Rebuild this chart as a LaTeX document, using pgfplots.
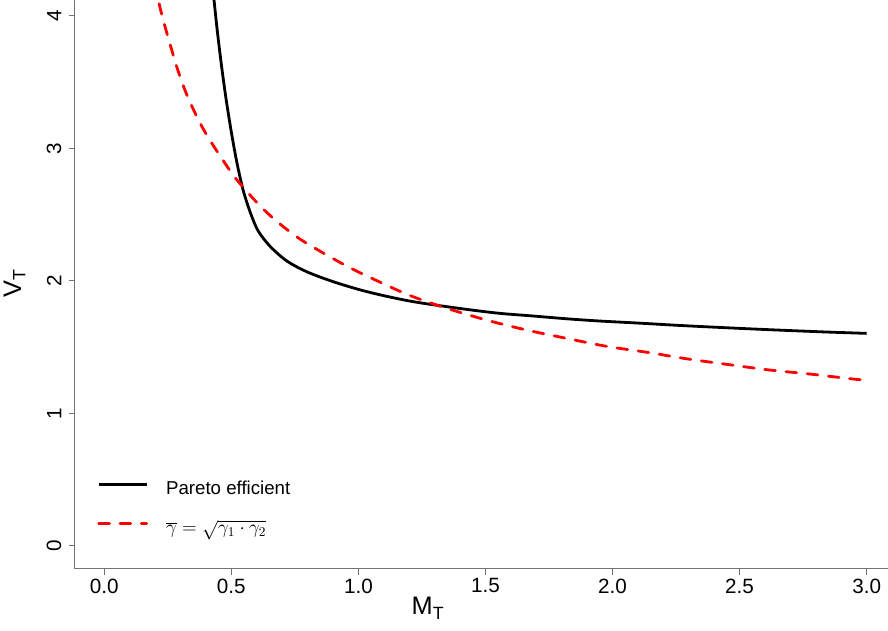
\documentclass[border=0pt]{standalone}
\usepackage{fontspec}
\setmainfont{Liberation Sans}
\usepackage{pgfplots}
\pgfplotsset{compat=1.18}

\begin{document}
\begin{tikzpicture}
\begin{axis}[
    scale only axis, width=610.1pt, height=426.4pt,
    xmin=-0.117, xmax=3.084, ymin=-0.172, ymax=4.119,
    axis x line*=bottom, axis y line*=left,
    x axis line style={-}, y axis line style={-},
    axis line style={black!55, line width=1pt},
    tick align=outside, major tick length=4.5pt,
    tick style={black!55, line width=1pt},
    xtick={0,0.5,1,1.5,2,2.5,3}, ytick={0,1,2,3,4},
    /pgf/number format/assume math mode=true,
    tick label style={font=\fontsize{15.5}{18}\selectfont, inner sep=0pt},
    xticklabel style={anchor=north, /pgf/number format/.cd, fixed, fixed zerofill, precision=1},
    yticklabel style={rotate=90, anchor=south},
    xticklabel shift=2.9pt, yticklabel shift=5.2pt,
    xlabel={M\textsubscript{T}}, ylabel={V\textsubscript{T}},
    xlabel style={at={(axis description cs:0.4345,-0.0501)}, anchor=north, inner sep=0pt, font=\fontsize{19}{22}\selectfont},
    ylabel style={at={(axis description cs:-0.0600,0.5022)}, anchor=south, inner sep=0pt, font=\fontsize{19}{22}\selectfont},
    legend style={draw=none, fill=none, inner sep=0pt, at={(axis description cs:0.0277,0.1038)}, anchor=west,
        font=\fontsize{14}{17}\selectfont, row sep=16pt, column sep=13.5pt,
        nodes={inner sep=0pt, text height=10pt, text depth=3pt}},
    legend cell align=left,
    legend image code/.code={\draw[#1] (0pt,4pt) -- (36pt,4pt);},
]
\coordinate (SW) at (rel axis cs:0,0);
\coordinate (NE) at (rel axis cs:1,1);

% Pareto efficient frontier
\addplot[black, line width=2.1pt, smooth, tension=0.5] coordinates {
 (0.423,4.30) (0.432,4.119) (0.446,3.867) (0.462,3.615) (0.480,3.364) (0.501,3.112)
 (0.520,2.911) (0.534,2.785) (0.550,2.660) (0.576,2.509) (0.606,2.375) (0.654,2.257)
 (0.718,2.150) (0.797,2.068) (0.901,1.993) (1.019,1.925) (1.137,1.872) (1.242,1.834)
 (1.426,1.784) (1.557,1.754) (1.688,1.734) (1.820,1.713) (1.951,1.696) (2.108,1.680)
 (2.292,1.660) (2.554,1.636) (2.817,1.615) (3.000,1.603)};
\addlegendentry{Pareto efficient}

% geometric mean gamma
\addplot[red, line width=2.1pt, line cap=round, dash pattern=on 8pt off 8pt, smooth, tension=0.5] coordinates {
 (0.205,4.25) (0.213,4.119) (0.232,3.968) (0.259,3.785) (0.285,3.617) (0.311,3.472)
 (0.337,3.350) (0.377,3.190) (0.416,3.060) (0.462,2.925) (0.508,2.795) (0.554,2.690)
 (0.613,2.565) (0.678,2.450) (0.757,2.332) (0.836,2.238) (0.967,2.098) (1.124,1.955)
 (1.216,1.879) (1.348,1.792) (1.505,1.703) (1.662,1.628) (1.820,1.565) (1.977,1.505)
 (2.147,1.457) (2.292,1.411) (2.462,1.366) (2.620,1.326) (2.777,1.296) (2.948,1.258)
 (3.000,1.250)};
\addlegendentry{$\overline{\gamma} = \sqrt{\gamma_1 \cdot \gamma_2}$}
\end{axis}
\pgfresetboundingbox
\path[use as bounding box] ([shift={(-55.875pt,-46.125pt)}]SW) rectangle (NE);
\end{tikzpicture}
\end{document}
